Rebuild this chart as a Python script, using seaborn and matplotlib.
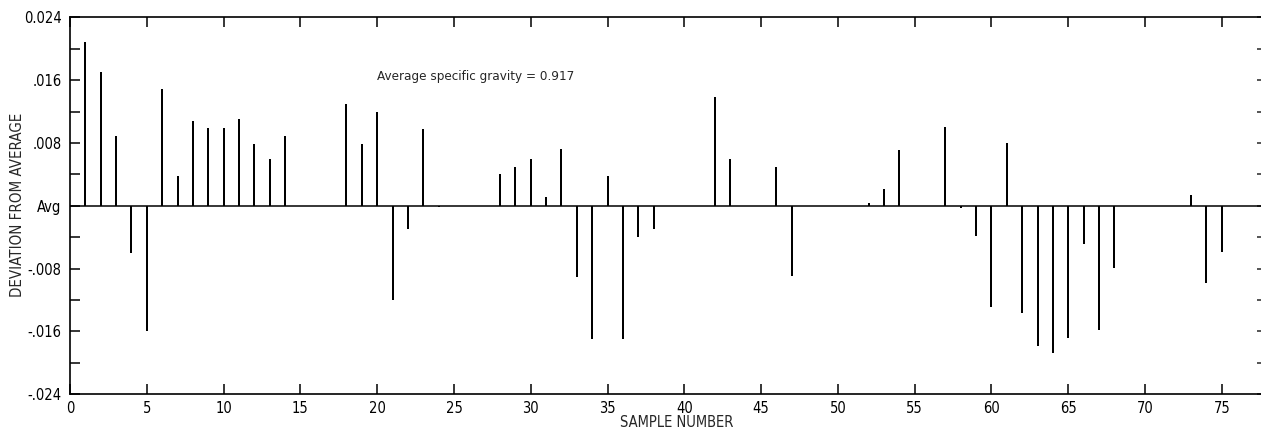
import matplotlib
matplotlib.use("Agg")
import matplotlib.pyplot as plt
from matplotlib.ticker import MultipleLocator, FixedLocator
import seaborn as sns
import pandas as pd

# Deviation of each sample's specific gravity from the lot average
samples = list(range(1, 76))
deviation = [
    0.0209, 0.0170, 0.0089, -0.0060, -0.0159, 0.0149, 0.0038, 0.0108, 0.0099, 0.0099,   # 1-10
    0.0111, 0.0079, 0.0059, 0.0089, 0.0, 0.0, 0.0, 0.0130, 0.0079, 0.0120,              # 11-20
    -0.0120, -0.0029, 0.0098, -0.0002, 0.0, 0.0, 0.0, 0.0040, 0.0049, 0.0060,           # 21-30
    0.0011, 0.0072, -0.0091, -0.0170, 0.0038, -0.0170, -0.0040, -0.0030, 0.0, 0.0,      # 31-40
    0.0, 0.0139, 0.0060, 0.0, 0.0, 0.0050, -0.0089, 0.0, 0.0, 0.0,                      # 41-50
    0.0, 0.0003, 0.0021, 0.0071, 0.0, 0.0, 0.0100, -0.0003, -0.0039, -0.0129,           # 51-60
    0.0080, -0.0137, -0.0178, -0.0188, -0.0168, -0.0049, -0.0158, -0.0079, 0.0, 0.0,    # 61-70
    0.0, 0.0, 0.0014, -0.0098, -0.0059,                                                 # 71-75
]
y_ticks = [-0.024, -0.016, -0.008, 0.0, 0.008, 0.016, 0.024]
y_tick_labels = ["-.024", "-.016", "-.008", "Avg", ".008", ".016", "0.024"]
x_ticks = list(range(0, 80, 5))
note = "Average specific gravity = 0.917"

df = pd.DataFrame({"sample": samples, "deviation": deviation})

sns.set_style("ticks")
plt.rcParams["font.family"] = ["DejaVu Sans"]
plt.rcParams["font.stretch"] = "condensed"

fig = plt.figure(figsize=(12.61, 4.29), dpi=100)
ax = fig.add_axes([70 / 1261, 1 - 394.3 / 429, 1191 / 1261, (394.3 - 17.3) / 429])

sns.barplot(data=df, x="sample", y="deviation", native_scale=True, width=0.13,
            color="black", saturation=1, linewidth=0, errorbar=None, ax=ax)

ax.axhline(0, color="black", lw=1.1, zorder=3)

ax.set_xlim(0, 77.55)
ax.set_ylim(-0.024, 0.024)

ax.xaxis.set_major_locator(FixedLocator(x_ticks))
ax.set_xticks(x_ticks)
ax.set_xticklabels([str(t) for t in x_ticks])
ax.set_yticks(y_ticks)
ax.set_yticklabels(y_tick_labels)
ax.yaxis.set_minor_locator(MultipleLocator(0.004))

ax.tick_params(axis="x", which="major", direction="in", length=7, width=1.1,
               top=True, bottom=True, pad=5, labelsize=10.5, colors="black")
ax.tick_params(axis="y", which="both", direction="in", length=7, width=1.1,
               left=True, right=False, pad=6, labelsize=10.5, colors="black")

# short ticks along the right edge
ax_r = ax.secondary_yaxis("right")
ax_r.set_yticks([v * 0.004 for v in range(-6, 7)])
ax_r.tick_params(direction="in", length=3, width=1.1, labelright=False)
ax_r.spines["right"].set_visible(False)

for side in ["left", "bottom", "top"]:
    ax.spines[side].set_linewidth(1.2)
    ax.spines[side].set_color("black")
ax.spines["right"].set_visible(False)

ax.set_xlabel("SAMPLE NUMBER", fontsize=10.5)
ax.xaxis.set_label_coords(0.509, -0.056)
ax.set_ylabel("DEVIATION FROM AVERAGE", fontsize=10.8)
ax.yaxis.set_label_coords(-0.038, 0.502)

ax.text(20.0, 0.0165, note, fontsize=9.6, ha="left", va="center")

fig.savefig("out.png", dpi=100)
